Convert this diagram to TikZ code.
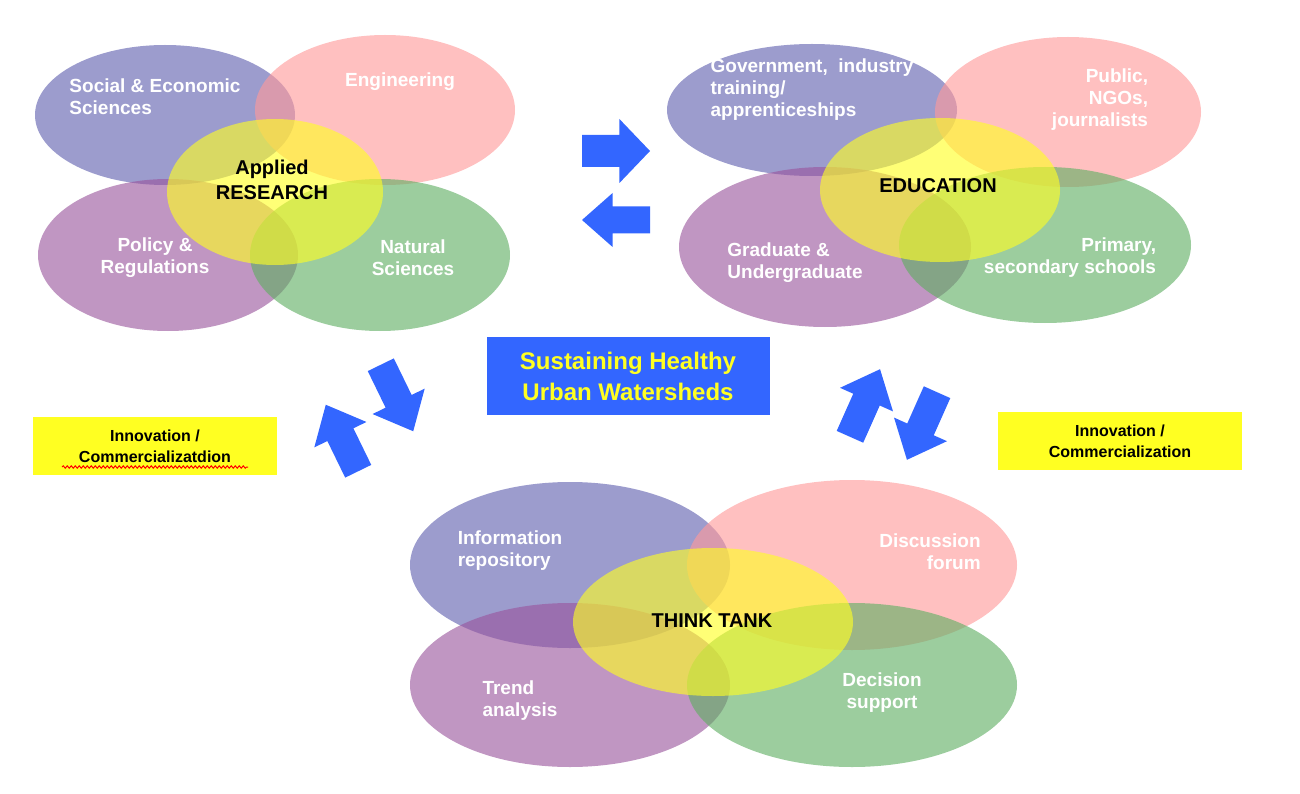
\documentclass[tikz,border=0pt]{standalone}
\usepackage{fontspec}
\setmainfont{Liberation Sans}
\usetikzlibrary{decorations.pathmorphing}
\definecolor{cB}{HTML}{5F5FAF}
\definecolor{cP}{HTML}{FF9A9A}
\definecolor{cM}{HTML}{9A559C}
\definecolor{cG}{HTML}{5FAE63}
\definecolor{cY}{HTML}{FFFF22}
\definecolor{arr}{HTML}{3366FF}
% #1 x, #2 y, #3 angle, #4 length, #5 head half width
\newcommand\myblockarrow[5]{%
 \begin{scope}[shift={(#1,#2)},rotate=#3,x=1pt,y=1pt]
 \fill[arr] (-#4/2,-0.5*#5) -- (#4/2-0.45*#4,-0.5*#5) -- (#4/2-0.45*#4,-#5) -- (#4/2,0) -- (#4/2-0.45*#4,#5) -- (#4/2-0.45*#4,0.5*#5) -- (-#4/2,0.5*#5) -- cycle;
 \end{scope}}
\begin{document}
\begin{tikzpicture}[x=1pt,y=-1pt,
 ell/.style={fill opacity=0.62,draw=none},
 lab/.style={text=white,font=\bfseries\fontsize{19}{22}\selectfont,align=center},
 clab/.style={text=black,font=\bfseries\fontsize{20}{25}\selectfont,align=center},
 ybox/.style={fill=cY,minimum width=244pt,minimum height=58pt,align=center,font=\bfseries\fontsize{16}{21}\selectfont}]
\useasboundingbox (0,0) rectangle (1300,794);
% Research
\fill[cB,ell] (165,115) ellipse (130 and 70);
\fill[cP,ell] (385,110) ellipse (130 and 75);
\fill[cM,ell] (168,255) ellipse (130 and 76);
\fill[cG,ell] (380,255) ellipse (130 and 76);
\fill[cY,ell] (275,192) ellipse (108 and 73);
\node[lab,align=left] (r1) at (155,97) {Social \& Economic\\Sciences};
\node[lab] (r2) at (400,82) {Engineering};
\node[lab] (r3) at (155,258) {Policy \&\\Regulations};
\node[lab] (r4) at (413,258) {Natural\\Sciences};
\node[clab] (r0) at (272,180) {Applied\\RESEARCH};
% Education
\fill[cB,ell] (812,110) ellipse (145 and 66);
\fill[cP,ell] (1068,112) ellipse (133 and 75);
\fill[cM,ell] (825,247) ellipse (146 and 80);
\fill[cG,ell] (1045,245) ellipse (146 and 78);
\fill[cY,ell] (940,190) ellipse (120 and 72);
\node[lab,align=left] (e1) at (812,90) {Government,\ \ industry\\training/\\apprenticeships};
\node[lab,align=right] (e2) at (1100,100) {Public,\\NGOs,\\journalists};
\node[lab,align=left] (e3) at (795,263) {Graduate \&\\Undergraduate};
\node[lab,align=right] (e4) at (1070,258) {Primary,\\secondary schools};
\node[clab] (e0) at (938,186) {EDUCATION};
% Think tank
\fill[cB,ell] (570,565) ellipse (160 and 83);
\fill[cP,ell] (852,565) ellipse (165 and 85);
\fill[cM,ell] (570,685) ellipse (160 and 82);
\fill[cG,ell] (852,685) ellipse (165 and 82);
\fill[cY,ell] (713,622) ellipse (140 and 74);
\node[lab,align=left] (t1) at (510,551) {Information\\repository};
\node[lab,align=right] (t2) at (930,552) {Discussion\\forum};
\node[lab,align=left] (t3) at (520,701) {Trend\\analysis};
\node[lab] (t4) at (882,693) {Decision\\support};
\node[clab] (t0) at (712,621) {THINK TANK};
% centre
\node[fill=arr,minimum width=283pt,minimum height=78pt,text=cY,align=center,font=\bfseries\fontsize{24}{31}\selectfont] (c) at (628,376) {Sustaining Healthy\\Urban Watersheds};
\node[ybox] (y1) at (155,446) {Innovation /\\Commercializatdion};
\node[ybox] (y2) at (1120,441) {Innovation /\\Commercialization};
\draw[red,line width=1pt,decorate,decoration={snake,amplitude=1.2pt,segment length=4pt}] (62,467) -- (248,467);
% block arrows
\myblockarrow{616}{151}{0}{68}{32}
\myblockarrow{616}{220}{180}{68}{27}
\myblockarrow{397}{398}{-64}{74}{29}
\myblockarrow{342}{438}{116}{74}{29}
\myblockarrow{865}{403}{66}{74}{29}
\myblockarrow{922}{426}{-114}{74}{29}
\end{tikzpicture}
\end{document}
